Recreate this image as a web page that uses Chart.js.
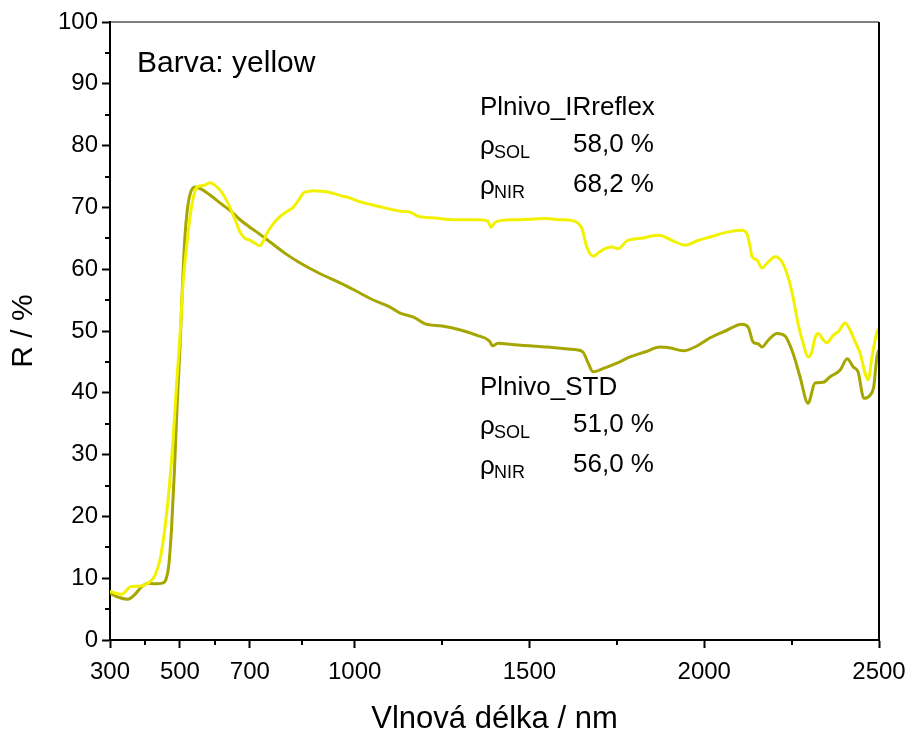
<!DOCTYPE html>
<html>
<head>
<meta charset="utf-8">
<script src="https://cdn.jsdelivr.net/npm/chart.js@4.4.0/dist/chart.umd.min.js"></script>
<style>
    html, body { margin: 0; padding: 0; background: #fff; }
    #wrap { width: 909px; height: 734px; }
</style>
</head>
<body>
<div id="wrap"><canvas id="lineChart" width="909" height="734"></canvas></div>
<script>
// Plnivo_IRreflex (light yellow)
const wlIR = [300, 315, 334, 345, 357, 380, 394, 414, 429, 443, 457, 470, 480, 490, 500, 509, 520, 529, 540, 549,
    570, 586, 600, 615, 630, 643, 658, 672, 686, 700, 715, 729, 738, 749, 765, 786, 805, 824, 840, 853,
    870, 881, 905, 929, 960, 987, 1010, 1044, 1080, 1130, 1160, 1180, 1200, 1230, 1260, 1300, 1350, 1380, 1390, 1400,
    1420, 1460, 1500, 1550, 1588, 1620, 1640, 1650, 1664, 1683, 1700, 1720, 1736, 1754, 1779, 1820, 1865, 1880, 1910, 1945,
    1980, 2017, 2065, 2108, 2122, 2130, 2137, 2151, 2165, 2180, 2203, 2222, 2240, 2254, 2268, 2283, 2297, 2307, 2317, 2326,
    2340, 2351, 2369, 2385, 2403, 2417, 2430, 2446, 2460, 2469, 2480, 2494, 2500];
const rIR = [7.9, 7.6, 7.4, 7.9, 8.6, 8.7, 8.8, 9.4, 10.5, 13, 18, 25, 32, 41, 49, 57.7, 64, 68.5, 72, 73.3,
    73.6, 74, 73.6, 72.8, 71.5, 70, 68, 66, 65, 64.7, 64.2, 63.8, 64.5, 65.8, 67.2, 68.5, 69.3, 70, 71.2, 72.3,
    72.6, 72.7, 72.6, 72.4, 71.9, 71.5, 71, 70.5, 70, 69.4, 69.2, 68.6, 68.4, 68.3, 68.1, 68, 68, 67.8, 66.8, 67.5,
    67.9, 68, 68.1, 68.2, 68, 67.9, 67.4, 66.6, 63.6, 62.1, 62.8, 63.4, 63.6, 63.3, 64.6, 65, 65.5, 65.4, 64.6, 63.9,
    64.6, 65.2, 66, 66.3, 65.8, 64, 62, 61.5, 60.2, 61, 62, 61.2, 58.7, 55.5, 51.3, 48, 45.8, 46.5, 48.9, 49.6,
    48.6, 48.1, 49.3, 50, 51.3, 50.2, 48.5, 46.4, 43.2, 42.1, 45.8, 49.8, 50.5];

// Plnivo_STD (olive)
const wlStd = [300, 320, 351, 370, 390, 409, 430, 450, 460, 468, 476, 484, 492, 500, 507, 514, 521, 530, 543, 560,
    586, 620, 650, 672, 700, 730, 758, 800, 844, 900, 958, 1000, 1050, 1100, 1130, 1170, 1200, 1250, 1300, 1350,
    1385, 1395, 1410, 1450, 1500, 1550, 1588, 1630, 1653, 1668, 1682, 1710, 1750, 1788, 1830, 1874, 1900, 1940, 1980, 2017,
    2060, 2108, 2126, 2140, 2155, 2165, 2183, 2208, 2231, 2254, 2274, 2297, 2317, 2340, 2360, 2389, 2409, 2426, 2440, 2457,
    2474, 2485, 2494, 2500];
const rStd = [7.6, 7.0, 6.6, 7.3, 8.6, 9.2, 9.1, 9.2, 9.8, 12, 18, 27, 38, 47, 57, 65, 69.5, 72.3, 73.3, 73,
    72, 70.5, 69.2, 68, 66.8, 65.6, 64.4, 62.6, 61, 59.3, 57.8, 56.6, 55.1, 53.9, 52.9, 52.2, 51.2, 50.8, 50.2, 49.3,
    48.4, 47.6, 48, 47.8, 47.6, 47.4, 47.2, 47, 46.6, 44.8, 43.4, 43.9, 44.8, 45.8, 46.6, 47.4, 47.3, 46.8, 47.6, 48.9,
    50, 51.1, 50.6, 48.2, 47.9, 47.4, 48.5, 49.6, 49.2, 46.4, 42.6, 38.3, 41.6, 41.7, 42.6, 43.7, 45.5, 44.2, 43.4, 39.1,
    39.6, 41, 45.8, 47];

const xMajorTicks = [300, 500, 700, 1000, 1500, 2000, 2500];
const xMinorTicks = [400, 600, 850, 1250, 1750, 2250];
const yMinorTicks = [5, 15, 25, 35, 45, 55, 65, 75, 85, 95];

const FONT = "'Liberation Sans', Arial, sans-serif";

function toPoints(xs, ys) {
    return xs.map((x, i) => ({x: x, y: ys[i]}));
}

// box lines, minor ticks and text labels
const extrasPlugin = {
    id: "extras",
    afterDraw(chart) {
        const ctx = chart.ctx;
        const a = chart.chartArea;
        const xs = chart.scales.x, ys = chart.scales.y;
        ctx.save();
        ctx.strokeStyle = "#000";
        ctx.lineWidth = 1.2;
        ctx.beginPath();
        ctx.moveTo(a.left, a.top);
        ctx.lineTo(a.right, a.top);
        ctx.stroke();
        ctx.lineWidth = 2;
        ctx.beginPath();
        ctx.moveTo(a.right, a.top);
        ctx.lineTo(a.right, a.bottom);
        ctx.stroke();

        xMinorTicks.forEach(v => {
            const px = Math.round(xs.getPixelForValue(v));
            ctx.beginPath();
            ctx.moveTo(px, a.bottom);
            ctx.lineTo(px, a.bottom + 5);
            ctx.stroke();
        });
        yMinorTicks.forEach(v => {
            const py = Math.round(ys.getPixelForValue(v));
            ctx.beginPath();
            ctx.moveTo(a.left, py);
            ctx.lineTo(a.left - 5, py);
            ctx.stroke();
        });

        ctx.fillStyle = "#000";
        ctx.textBaseline = "alphabetic";
        ctx.textAlign = "left";
        ctx.font = "30px " + FONT;
        ctx.fillText("Barva: yellow", 137, 72);

        const drawBlock = (base, name, sol, nir) => {
            const lx = 480;
            ctx.font = "26px " + FONT;
            ctx.fillText(name, lx, base);
            ctx.fillText("ρ", lx, base + 39);
            ctx.fillText("ρ", lx, base + 79);
            ctx.font = "18px " + FONT;
            ctx.fillText("SOL", lx + 14, base + 43);
            ctx.fillText("NIR", lx + 14, base + 83);
            ctx.font = "26px " + FONT;
            ctx.fillText(sol, 573, base + 37);
            ctx.fillText(nir, 573, base + 77);
        };
        drawBlock(115, "Plnivo_IRreflex", "58,0 %", "68,2 %");
        drawBlock(395, "Plnivo_STD", "51,0 %", "56,0 %");
        ctx.restore();
    }
};

const config = {
    type: "line",
    data: {
        datasets: [
            {
                label: "Plnivo_IRreflex",
                data: toPoints(wlIR, rIR),
                borderColor: "#F2F200",
                borderWidth: 3,
                pointRadius: 0,
                cubicInterpolationMode: "monotone",
                fill: false
            },
            {
                label: "Plnivo_STD",
                data: toPoints(wlStd, rStd),
                borderColor: "#A6A600",
                borderWidth: 3,
                pointRadius: 0,
                cubicInterpolationMode: "monotone",
                fill: false
            }
        ]
    },
    options: {
        responsive: false,
        animation: false,
        layout: {padding: {top: 22, right: 30, left: 0, bottom: 0}},
        plugins: {legend: {display: false}, tooltip: {enabled: false}},
        scales: {
            x: {
                type: "linear",
                min: 300,
                max: 2500,
                afterBuildTicks: scale => {
                    scale.ticks = xMajorTicks.map(v => ({value: v}));
                },
                afterFit: scale => {
                    scale.height = 94;
                    scale.paddingLeft = 0;
                    scale.paddingRight = 0;
                },
                border: {display: true, color: "#000", width: 2},
                grid: {drawOnChartArea: false, drawTicks: true, tickLength: 8, color: "#000", tickWidth: 2},
                ticks: {
                    color: "#000", font: {family: FONT, size: 24}, padding: 10, maxRotation: 0,
                    callback: v => String(v)
                },
                title: {display: true, text: "Vlnová délka / nm", color: "#000", font: {family: FONT, size: 31}, padding: {top: 0, bottom: -4}}
            },
            y: {
                min: 0,
                max: 100,
                afterFit: scale => { scale.width = 110; },
                border: {display: true, color: "#000", width: 2},
                grid: {drawOnChartArea: false, drawTicks: true, tickLength: 8, color: "#000", tickWidth: 2},
                ticks: {stepSize: 10, color: "#000", font: {family: FONT, size: 24}, padding: 4},
                title: {display: true, text: "R / %", color: "#000", font: {family: FONT, size: 30}, padding: {top: 6, bottom: 0}}
            }
        }
    },
    plugins: [extrasPlugin]
};

let chart;
window.addEventListener("load", () => {
    chart = new Chart(document.getElementById("lineChart"), config);
});
</script>
</body>
</html>
